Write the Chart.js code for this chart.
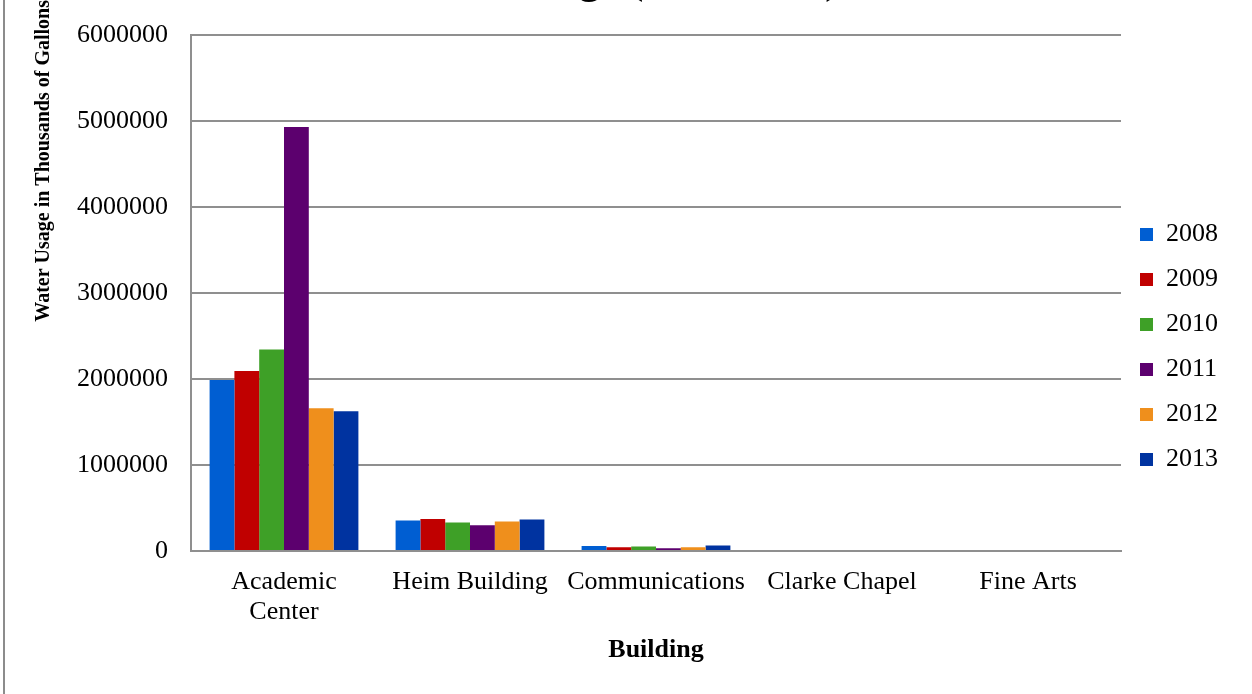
<!DOCTYPE html>
<html lang="en">
<head>
    <meta charset="UTF-8">
    <title>Water Usage (2008-2013)</title>
    <script src="https://cdn.jsdelivr.net/npm/chart.js"></script>
    <style>
        html, body {
            margin: 0;
            padding: 0;
            background: #ffffff;
            overflow: hidden;
        }
        .frame {
            position: relative;
            width: 1252px;
            height: 694px;
        }
        .frame .edge {
            position: absolute;
            left: 3px;
            top: 0;
            height: 694px;
            border-left: 2px solid #8c8c8c;
        }
    </style>
</head>
<body>
    <div class="frame">
        <canvas id="waterChart" width="1252" height="694"></canvas>
        <div class="edge"></div>
    </div>

    <script>
        // buildings on the x axis
        const buildings = [['Academic', 'Center'], 'Heim Building', 'Communications', 'Clarke Chapel', 'Fine Arts'];
        const years = ['2008', '2009', '2010', '2011', '2012', '2013'];

        // water usage, thousands of gallons
        const use2008 = [1990000, 355000, 58000, 0, 0];
        const use2009 = [2095000, 373000, 43000, 0, 0];
        const use2010 = [2345000, 331000, 51000, 0, 0];
        const use2011 = [4935000, 300000, 31000, 0, 0];
        const use2012 = [1662000, 343000, 43000, 0, 0];
        const use2013 = [1627000, 366000, 63000, 0, 0];

        const yMax = 6000000;
        const yStep = 1000000;

        const colors = ['#005ed2', '#c00000', '#3ea027', '#5c006e', '#ef8f1c', '#0033a0'];
        const series = [use2008, use2009, use2010, use2011, use2012, use2013];

        const serif = 'Liberation Serif, Times New Roman, serif';
        const gridGray = '#8f8f8f';

        new Chart(document.getElementById('waterChart'), {
            type: 'bar',
            data: {
                labels: buildings,
                datasets: series.map((vals, i) => ({
                    label: years[i],
                    data: vals,
                    backgroundColor: colors[i],
                    borderWidth: 0,
                    categoryPercentage: 0.8,
                    barPercentage: 1.0
                }))
            },
            options: {
                responsive: false,
                animation: false,
                layout: {padding: {right: 24}},
                plugins: {
                    tooltip: {enabled: false},
                    // title sits mostly above the visible frame, as in the cropped original
                    title: {
                        display: true,
                        text: 'Water Usage (2008-2013)',
                        color: '#000',
                        font: {family: serif, size: 42, weight: 'bold', lineHeight: 1.2},
                        padding: {top: -43, bottom: 28}
                    },
                    subtitle: {
                        display: true,
                        position: 'left',
                        align: 'end',
                        text: 'Water Usage in Thousands of Gallons',
                        color: '#000',
                        font: {family: serif, size: 20, weight: 'bold', lineHeight: 1.2},
                        padding: {top: 32, bottom: -2}
                    },
                    legend: {
                        position: 'right',
                        align: 'center',
                        labels: {
                            color: '#000',
                            font: {family: serif, size: 26},
                            boxWidth: 13,
                            boxHeight: 13,
                            padding: 19
                        }
                    }
                },
                scales: {
                    x: {
                        grid: {display: false, drawTicks: false},
                        border: {display: true, color: gridGray, width: 2},
                        ticks: {
                            color: '#000',
                            font: {family: serif, size: 26, lineHeight: 1.15},
                            padding: 16,
                            maxRotation: 0,
                            autoSkip: false
                        },
                        title: {
                            display: true,
                            text: 'Building',
                            color: '#000',
                            font: {family: serif, size: 26, weight: 'bold', lineHeight: 1.2},
                            padding: {top: -8, bottom: 28}
                        }
                    },
                    y: {
                        min: 0,
                        max: yMax,
                        grid: {color: gridGray, lineWidth: 2, drawTicks: false},
                        border: {display: true, color: gridGray, width: 2},
                        ticks: {
                            stepSize: yStep,
                            color: '#000',
                            font: {family: serif, size: 26, lineHeight: 0.9},
                            padding: 23,
                            callback: v => String(v)
                        }
                    }
                }
            }
        });
    </script>
</body>
</html>
